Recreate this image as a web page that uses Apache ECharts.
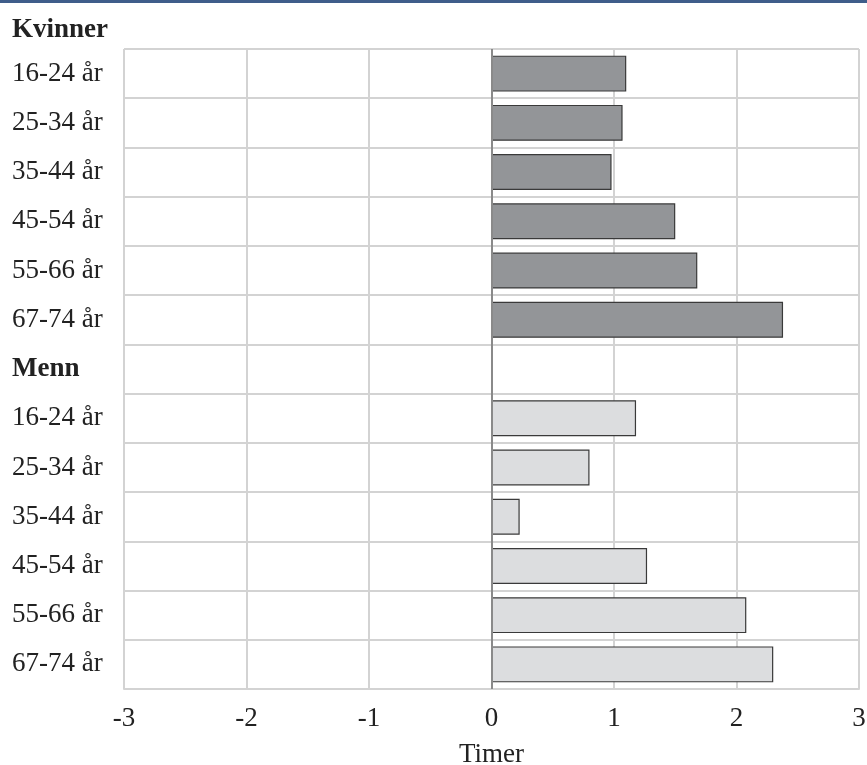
<!DOCTYPE html>
<html>
<head>
<meta charset="utf-8">
<script src="https://cdn.jsdelivr.net/npm/echarts@6/dist/echarts.min.js"></script>
<style>html,body{margin:0;padding:0;background:#fff;}#c{width:867px;height:765px;}</style>
</head>
<body>
<div id="c"></div>
<script>
const groupTitleWomen = 'Kvinner';
const groupTitleMen = 'Menn';
const ageGroups = ['16-24 år', '25-34 år', '35-44 år', '45-54 år', '55-66 år', '67-74 år'];
const womenValues = [1.10, 1.07, 0.98, 1.50, 1.68, 2.38];
const menValues = [1.18, 0.80, 0.23, 1.27, 2.08, 2.30];
const xTicks = [-3, -2, -1, 0, 1, 2, 3];
const axisTitle = 'Timer';

const categories = ageGroups.concat([groupTitleMen], ageGroups);
const womenData = womenValues.concat(new Array(ageGroups.length + 1).fill(null));
const menData = new Array(ageGroups.length + 1).fill(null).concat(menValues);

const font = '"Liberation Serif", "Times New Roman", serif';
const fs = 27;
const chart = echarts.init(document.getElementById('c'), null, {renderer: 'canvas'});
chart.setOption({
  animation: false,
  backgroundColor: '#fff',
  title: {
    text: groupTitleWomen, left: 12, top: 17, padding: 0,
    textStyle: {fontFamily: font, fontWeight: 'bold', fontSize: fs, color: '#222'}
  },
  graphic: [{type: 'rect', left: 0, top: 0, shape: {width: 867, height: 3}, style: {fill: '#3f5d8a'}}],
  grid: {left: 124, right: 8, top: 49, bottom: 76, containLabel: false, outerBoundsMode: 'none'},
  xAxis: {
    type: 'value', min: xTicks[0], max: xTicks[xTicks.length - 1], interval: 1,
    name: axisTitle, nameLocation: 'middle', nameGap: 52,
    nameTextStyle: {fontFamily: font, fontSize: fs, color: '#222'},
    axisLine: {show: true, lineStyle: {color: '#d3d3d3', width: 2}},
    axisTick: {show: false},
    axisLabel: {fontFamily: font, fontSize: fs, color: '#222', margin: 16},
    splitLine: {show: true, lineStyle: {color: '#d3d3d3', width: 2}}
  },
  yAxis: {
    type: 'category', inverse: true, data: categories,
    axisLine: {show: true, lineStyle: {color: '#d3d3d3', width: 2}},
    axisTick: {show: false},
    axisLabel: {
      fontFamily: font, fontSize: fs, color: '#222', align: 'left', margin: 112,
      formatter: function (v) { return v === groupTitleMen ? '{b|' + v + '}' : v; },
      rich: {b: {fontFamily: font, fontSize: fs, fontWeight: 'bold', color: '#222'}}
    },
    splitLine: {show: true, lineStyle: {color: '#d3d3d3', width: 2}}
  },
  series: [
    {
      name: groupTitleWomen, type: 'bar', stack: 's', data: womenData, barWidth: '73%',
      itemStyle: {color: '#939598', borderColor: '#3a3a3a', borderWidth: 1.2},
      markLine: {
        silent: true, symbol: 'none', label: {show: false},
        lineStyle: {color: '#8a8a8a', width: 2, type: 'solid'},
        data: [{xAxis: 0}]
      }
    },
    {
      name: groupTitleMen, type: 'bar', stack: 's', data: menData, barWidth: '73%',
      itemStyle: {color: '#dcdddf', borderColor: '#3a3a3a', borderWidth: 1.2}
    }
  ]
});
</script>
</body>
</html>
